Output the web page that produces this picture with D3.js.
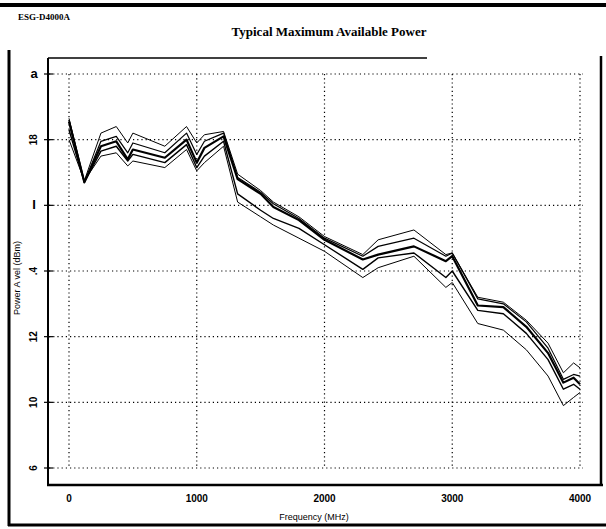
<!DOCTYPE html>
<html>
    <head>
        <script src="https://d3js.org/d3.v7.min.js"></script>
        <style>
            body{margin:0;background:white;}
            .tick-label{font-family:"Liberation Sans Narrow","Liberation Sans",sans-serif;font-weight:bold;font-size:11px;}
        </style>
    </head>
    <body>
        <svg height="529" width="606" id="chart"></svg>
        <script>
            // values
            let freqs=[0,120,250,370,460,500,750,920,1000,1060,1210,1320,1500,1600,1800,2000,2300,2420,2700,2950,3000,3200,3400,3580,3750,3870,3950,4000];
            let seriesA=[18.65,16.75,18.2,18.4,17.9,18.2,17.8,18.4,17.9,18.15,18.25,16.95,16.45,16.1,15.65,15.05,14.5,14.95,15.25,14.5,14.55,13.2,13.05,12.5,11.8,10.9,11.2,11.05];
            let seriesB=[18.6,16.7,17.95,18.1,17.6,17.9,17.6,18.2,17.55,17.95,18.2,16.85,16.4,16.05,15.6,15.0,14.45,14.75,15.0,14.45,14.55,13.15,13.0,12.45,11.65,10.7,10.85,10.8];
            let seriesC=[18.55,16.7,17.8,17.95,17.4,17.7,17.45,18.0,17.3,17.75,18.1,16.8,16.35,15.95,15.55,14.95,14.35,14.5,14.75,14.3,14.45,12.95,12.9,12.3,11.5,10.6,10.75,10.55];
            let seriesD=[18.3,16.7,17.65,17.8,17.35,17.55,17.3,17.85,17.15,17.5,17.95,16.35,15.85,15.6,15.3,14.8,14.05,14.4,14.55,13.8,14.0,12.8,12.7,12.1,11.3,10.4,10.55,10.4];
            let seriesE=[18.0,16.75,17.5,17.6,17.2,17.35,17.15,17.7,17.05,17.3,17.8,16.1,15.65,15.4,15.0,14.6,13.8,14.1,14.45,13.5,13.65,12.4,12.2,11.6,10.8,9.9,10.15,10.3];
            let yTicks=[20,18,16,14,12,10,8];
            let yTickLabels=["a","18","I",".4","12","10","6"];
            let xTicks=[0,1000,2000,3000,4000];
            let xTickLabels=["0","1000","2000","3000","4000"];

            let svg=d3.select("#chart");
            let x=d3.scaleLinear().domain([0,4000]).range([69,580]);
            let y=d3.scaleLinear().domain([8,20]).range([468,74]);

            // page frame
            svg.append("line").attr("x1",0).attr("x2",606).attr("y1",5).attr("y2",5)
                .style("stroke","black").style("stroke-width",4);
            svg.append("line").attr("x1",9).attr("x2",9).attr("y1",50).attr("y2",526)
                .style("stroke","black").style("stroke-width",3);
            svg.append("line").attr("x1",8).attr("x2",606).attr("y1",525).attr("y2",525)
                .style("stroke","black").style("stroke-width",3);

            svg.append("text").attr("x",18).attr("y",20)
                .style("font-family","Liberation Serif").style("font-weight","bold").style("font-size","9px")
                .text("ESG-D4000A");
            svg.append("text").attr("x",329).attr("y",36).attr("text-anchor","middle")
                .style("font-family","Liberation Serif").style("font-weight","bold").style("font-size","13px")
                .text("Typical Maximum Available Power");

            // gridlines
            let grid=svg.append("g");
            grid.selectAll("line.h").data(yTicks).join("line")
                .attr("class","h")
                .attr("x1",49).attr("x2",x(4000)+3)
                .attr("y1",d=>y(d)).attr("y2",d=>y(d))
                .style("stroke","black").style("stroke-width",1.2).style("stroke-dasharray","1.2,3");
            grid.selectAll("line.v").data(xTicks).join("line")
                .attr("class","v")
                .attr("x1",d=>x(d)).attr("x2",d=>x(d))
                .attr("y1",y(20)).attr("y2",y(8))
                .style("stroke","black").style("stroke-width",1.2).style("stroke-dasharray","1.2,3");
            grid.selectAll("line.tk").data(yTicks).join("line")
                .attr("class","tk")
                .attr("x1",44).attr("x2",53)
                .attr("y1",d=>y(d)).attr("y2",d=>y(d))
                .style("stroke","black").style("stroke-width",1.2);

            // plot frame
            svg.append("line").attr("x1",48).attr("x2",427).attr("y1",58).attr("y2",58)
                .style("stroke","black").style("stroke-width",1.5);
            svg.append("line").attr("x1",48).attr("x2",48).attr("y1",58).attr("y2",485)
                .style("stroke","black").style("stroke-width",2);
            svg.append("line").attr("x1",47).attr("x2",603).attr("y1",485).attr("y2",485)
                .style("stroke","black").style("stroke-width",2.5);
            svg.append("line").attr("x1",601).attr("x2",601).attr("y1",56).attr("y2",486)
                .style("stroke","black").style("stroke-width",2.5);

            // y tick labels
            svg.selectAll("text.yl").data(yTicks).join("text")
                .attr("class","yl tick-label")
                .attr("text-anchor","middle")
                .attr("transform",(d,i)=>/\d/.test(yTickLabels[i])
                    ?`translate(37,${y(d)}) rotate(-90)`
                    :`translate(34,${y(d)+4})`)
                .style("font-size",(d,i)=>/\d/.test(yTickLabels[i])?"10px":"13px")
                .text((d,i)=>yTickLabels[i]);

            // x tick labels
            svg.selectAll("text.xl").data(xTicks).join("text")
                .attr("class","xl tick-label")
                .attr("x",d=>x(d)).attr("y",502)
                .attr("text-anchor","middle")
                .style("font-size","10px")
                .text((d,i)=>xTickLabels[i]);

            svg.append("text").attr("x",314).attr("y",520).attr("text-anchor","middle")
                .attr("class","tick-label").style("font-size","9px").style("font-weight","normal")
                .text("Frequency (MHz)");
            svg.append("text").attr("transform","translate(20,278) rotate(-90)").attr("text-anchor","middle")
                .attr("class","tick-label").style("font-size","9px").style("font-weight","normal")
                .text("Power A vel (dBm)");

            // curves
            let allSeries=[seriesA,seriesB,seriesC,seriesD,seriesE];
            let widths=[1,1.2,2.2,1.4,1];
            let line=d3.line().x((d,i)=>x(freqs[i])).y(d=>y(d));
            svg.append("g").selectAll("path").data(allSeries).join("path")
                .attr("d",line)
                .style("fill","none")
                .style("stroke","black")
                .style("stroke-width",(d,i)=>widths[i])
                .style("stroke-linejoin","round");
        </script>
    </body>
</html>
